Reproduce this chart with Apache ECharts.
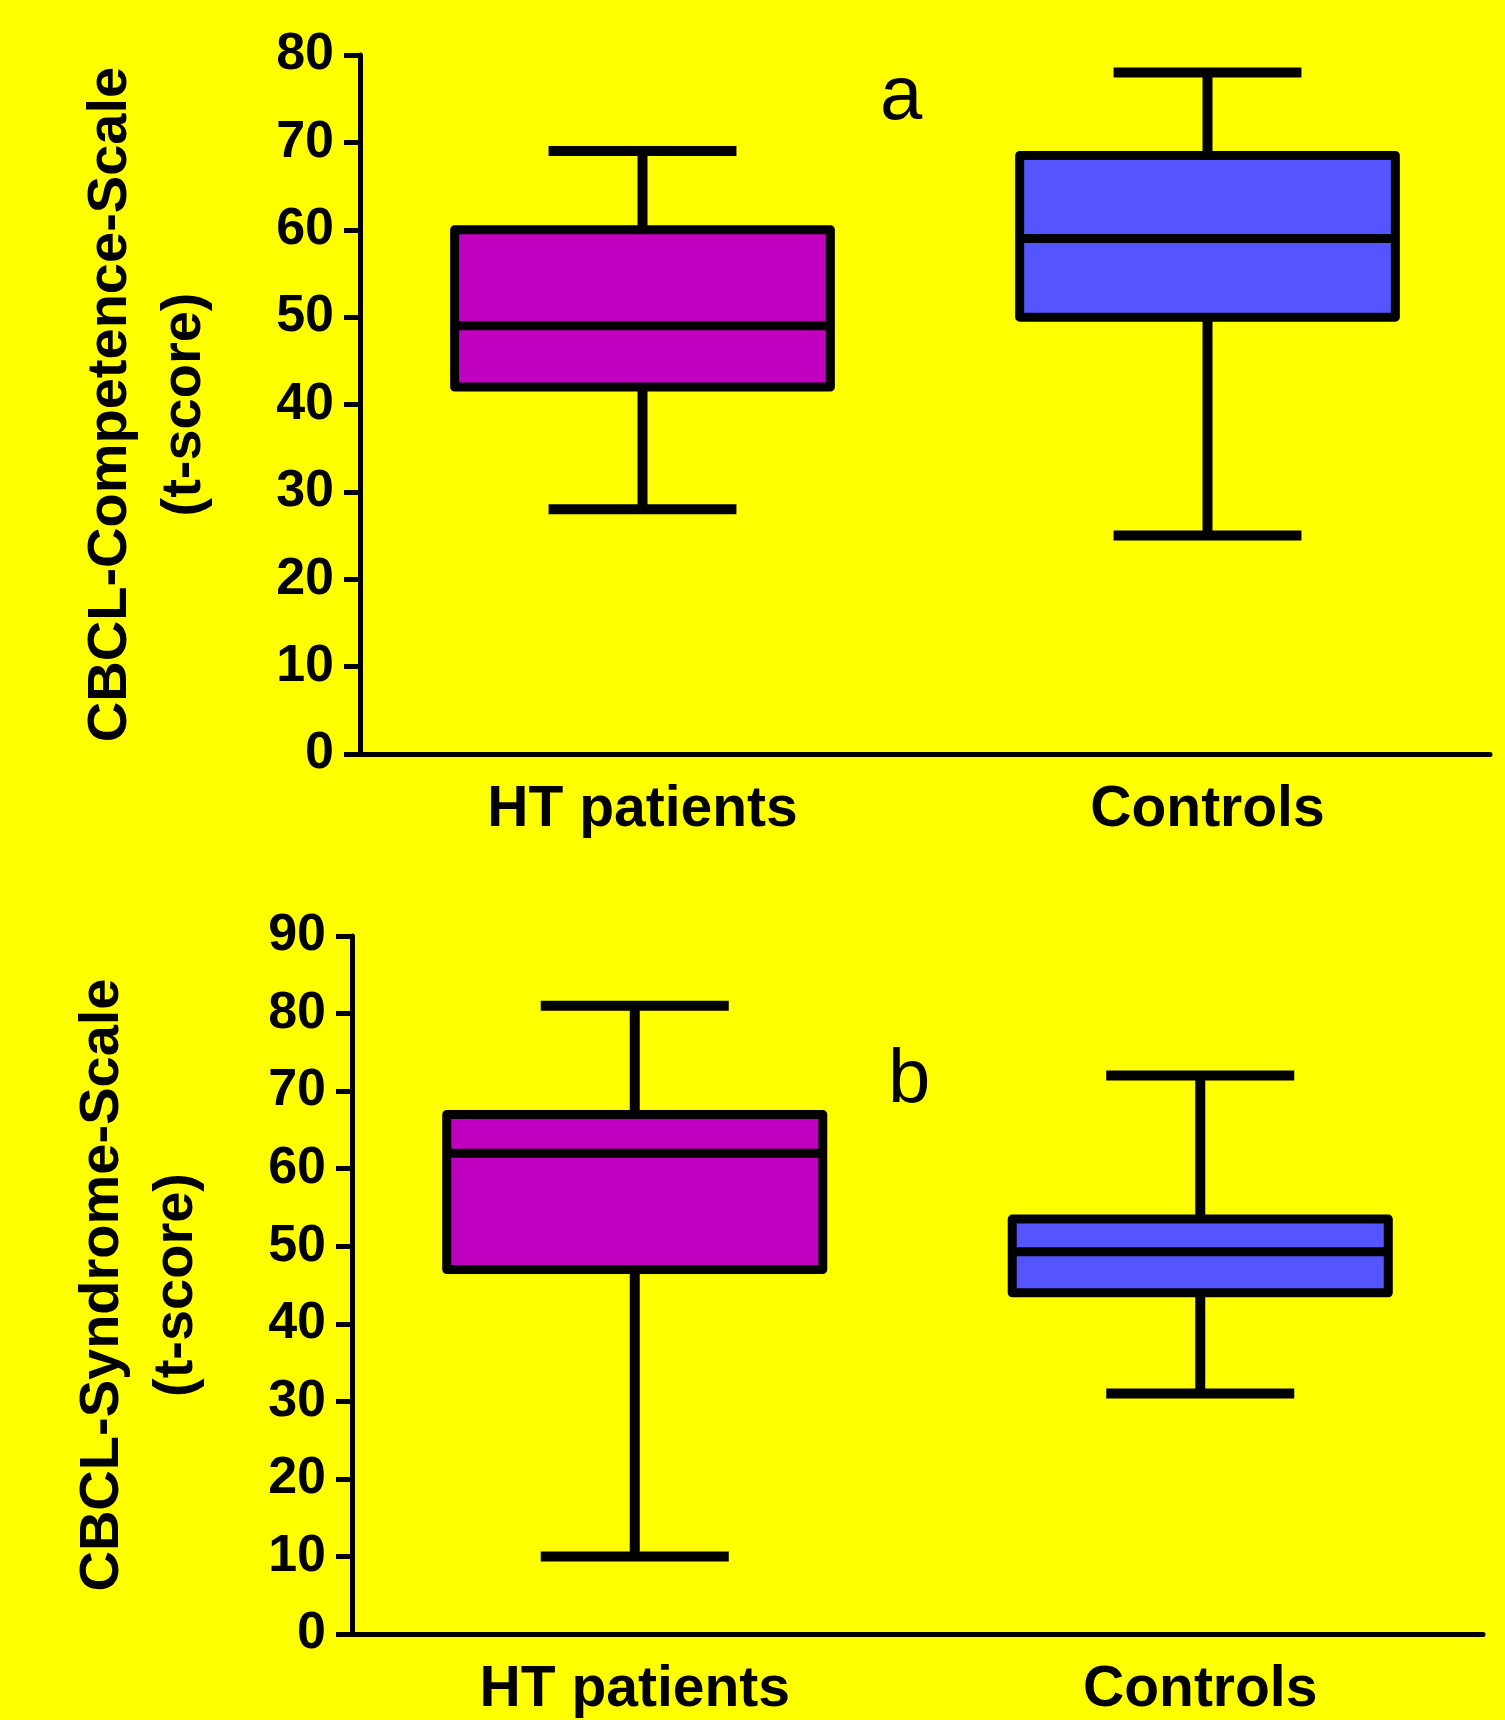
<!DOCTYPE html>
<html>
<head>
<meta charset="utf-8">
<script src="https://cdn.jsdelivr.net/npm/echarts@6/dist/echarts.min.js"></script>
<style>
  html, body { margin: 0; padding: 0; background: #ffff00; }
  #chart { width: 1505px; height: 1720px; }
</style>
</head>
<body>
<div id="chart"></div>
<script>
// Groups on the x axis
var categories = ['HT patients', 'Controls'];

// Panel a: CBCL competence scale, [min, Q1, median, Q3, max]
var competenceHT = [28, 42, 49, 60, 69];
var competenceControls = [25, 50, 59, 68.5, 78];

// Panel b: CBCL syndrome scale, [min, Q1, median, Q3, max]
var syndromeHT = [10, 47, 62, 67, 81];
var syndromeControls = [31, 44, 49.3, 53.5, 72];

// Y axis ticks
var competenceTicks = [0, 10, 20, 30, 40, 50, 60, 70, 80];
var syndromeTicks = [0, 10, 20, 30, 40, 50, 60, 70, 80, 90];

var boxColors = ['#c000c0', '#5555ff'];
var FONT = '"Liberation Sans", Arial, Helvetica, sans-serif';
var BOX_FRAC = 0.665;

function rows(a, b) {
  return [[0].concat(a), [1].concat(b)];
}

function renderBox(params, api) {
  var cat = api.value(0);
  var lo = api.coord([cat, api.value(1)]);
  var q1 = api.coord([cat, api.value(2)]);
  var med = api.coord([cat, api.value(3)]);
  var q3 = api.coord([cat, api.value(4)]);
  var hi = api.coord([cat, api.value(5)]);
  var band = api.size([1, 0])[0];
  var half = band * BOX_FRAC / 2;
  var capHalf = half / 2;
  var x = lo[0];
  var whisker = { stroke: '#000', lineWidth: 10, lineCap: 'butt' };
  return {
    type: 'group',
    children: [
      { type: 'line', shape: { x1: x, y1: hi[1], x2: x, y2: q3[1] }, style: whisker },
      { type: 'line', shape: { x1: x, y1: q1[1], x2: x, y2: lo[1] }, style: whisker },
      { type: 'line', shape: { x1: x - capHalf, y1: hi[1], x2: x + capHalf, y2: hi[1] }, style: whisker },
      { type: 'line', shape: { x1: x - capHalf, y1: lo[1], x2: x + capHalf, y2: lo[1] }, style: whisker },
      {
        type: 'rect',
        shape: { x: x - half, y: q3[1], width: 2 * half, height: q1[1] - q3[1] },
        style: { fill: boxColors[cat], stroke: '#000', lineWidth: 9, lineJoin: 'round' }
      },
      { type: 'line', shape: { x1: x - half, y1: med[1], x2: x + half, y2: med[1] },
        style: { stroke: '#000', lineWidth: 9 } }
    ]
  };
}

function xAxisFor(gridIndex) {
  return {
    type: 'category',
    gridIndex: gridIndex,
    data: categories,
    boundaryGap: true,
    axisLine: { lineStyle: { color: '#000', width: 5 } },
    axisTick: { alignWithLabel: true, length: 16, lineStyle: { color: '#000', width: 5 } },
    axisLabel: { color: '#000', fontFamily: FONT, fontWeight: 'bold', fontSize: 57, margin: 28 },
    splitLine: { show: false }
  };
}

function yAxisFor(gridIndex, ticks, name) {
  return {
    type: 'value',
    gridIndex: gridIndex,
    min: ticks[0],
    max: ticks[ticks.length - 1],
    interval: ticks[1] - ticks[0],
    name: name,
    nameLocation: 'middle',
    nameGap: 138,
    nameTextStyle: { color: '#000', fontFamily: FONT, fontWeight: 'bold', fontSize: 56, lineHeight: 74, align: 'center' },
    axisLine: { show: true, lineStyle: { color: '#000', width: 5 } },
    axisTick: { show: true, length: 16, lineStyle: { color: '#000', width: 5 } },
    axisLabel: { color: '#000', fontFamily: FONT, fontWeight: 'bold', fontSize: 52, margin: 26 },
    splitLine: { show: false }
  };
}

var chart = echarts.init(document.getElementById('chart'), null, { renderer: 'canvas' });
chart.setOption({
  backgroundColor: '#ffff00',
  animation: false,
  grid: [
    { left: 360, top: 55, right: 15, height: 699 },
    { left: 352, top: 936, right: 22, height: 698 }
  ],
  xAxis: [xAxisFor(0), xAxisFor(1)],
  yAxis: [
    yAxisFor(0, competenceTicks, 'CBCL-Competence-Scale\n(t-score)'),
    yAxisFor(1, syndromeTicks, 'CBCL-Syndrome-Scale\n(t-score)')
  ],
  graphic: [
    { type: 'text', left: 880, top: 60,
      style: { text: 'a', fill: '#000', font: 'normal 76px ' + FONT } },
    { type: 'text', left: 888, top: 1043,
      style: { text: 'b', fill: '#000', font: 'normal 76px ' + FONT } }
  ],
  series: [
    {
      type: 'custom', xAxisIndex: 0, yAxisIndex: 0,
      renderItem: renderBox,
      encode: { x: 0, y: [1, 2, 3, 4, 5] },
      data: rows(competenceHT, competenceControls)
    },
    {
      type: 'custom', xAxisIndex: 1, yAxisIndex: 1,
      renderItem: renderBox,
      encode: { x: 0, y: [1, 2, 3, 4, 5] },
      data: rows(syndromeHT, syndromeControls)
    }
  ]
});
</script>
</body>
</html>
